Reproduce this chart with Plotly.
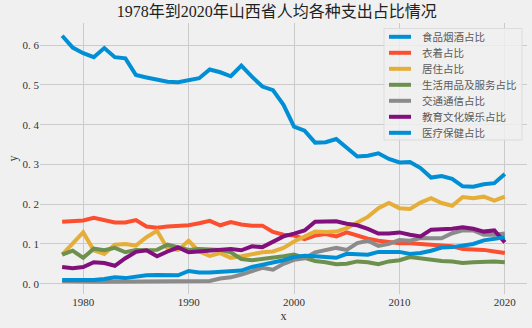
import plotly.graph_objects as go

years = list(range(1978, 2021))

food = [0.624, 0.594, 0.580, 0.570, 0.593, 0.570, 0.567, 0.525, 0.519, 0.513,
        0.508, 0.507, 0.512, 0.517, 0.539, 0.532, 0.522, 0.549, 0.521, 0.496,
        0.487, 0.450, 0.395, 0.385, 0.355, 0.356, 0.364, 0.343, 0.320, 0.322,
        0.328, 0.314, 0.305, 0.306, 0.291, 0.267, 0.271, 0.264, 0.245, 0.244,
        0.250, 0.253, 0.276]
clothing = [0.156, 0.158, 0.159, 0.166, 0.159, 0.154, 0.154, 0.160, 0.144, 0.141,
            0.144, 0.146, 0.147, 0.152, 0.158, 0.147, 0.155, 0.149, 0.146, 0.146,
            0.130, 0.123, 0.121, 0.112, 0.121, 0.125, 0.119, 0.129, 0.121, 0.113,
            0.108, 0.104, 0.102, 0.102, 0.100, 0.096, 0.096, 0.094, 0.087, 0.087,
            0.085, 0.081, 0.077]
housing = [0.073, 0.100, 0.129, 0.084, 0.075, 0.098, 0.100, 0.096, 0.117, 0.133,
           0.088, 0.085, 0.108, 0.081, 0.070, 0.077, 0.065, 0.069, 0.074, 0.079,
           0.081, 0.090, 0.106, 0.119, 0.131, 0.130, 0.131, 0.140, 0.154, 0.168,
           0.190, 0.203, 0.190, 0.188, 0.204, 0.215, 0.203, 0.196, 0.218, 0.215,
           0.219, 0.209, 0.219]
goods = [0.073, 0.083, 0.065, 0.088, 0.084, 0.090, 0.079, 0.085, 0.084, 0.085,
         0.098, 0.092, 0.085, 0.087, 0.087, 0.085, 0.079, 0.062, 0.059, 0.062,
         0.064, 0.069, 0.073, 0.065, 0.057, 0.054, 0.049, 0.050, 0.056, 0.054,
         0.049, 0.056, 0.059, 0.067, 0.063, 0.060, 0.057, 0.056, 0.052, 0.054,
         0.056, 0.056, 0.054]
transport = [0.006, 0.005, 0.005, 0.005, 0.005, 0.005, 0.005, 0.005, 0.005, 0.005,
             0.005, 0.006, 0.006, 0.006, 0.007, 0.013, 0.016, 0.023, 0.031, 0.040,
             0.035, 0.050, 0.060, 0.064, 0.079, 0.085, 0.090, 0.085, 0.102, 0.108,
             0.095, 0.100, 0.110, 0.108, 0.115, 0.114, 0.114, 0.127, 0.134, 0.134,
             0.123, 0.123, 0.126]
education = [0.042, 0.039, 0.042, 0.054, 0.052, 0.045, 0.064, 0.080, 0.084, 0.069,
             0.081, 0.091, 0.079, 0.081, 0.082, 0.083, 0.087, 0.084, 0.094, 0.092,
             0.106, 0.119, 0.126, 0.134, 0.156, 0.157, 0.157, 0.151, 0.147, 0.138,
             0.126, 0.126, 0.129, 0.123, 0.119, 0.136, 0.136, 0.138, 0.142, 0.138,
             0.131, 0.134, 0.104]
health = [0.009, 0.009, 0.007, 0.009, 0.012, 0.016, 0.014, 0.018, 0.021, 0.022,
          0.021, 0.021, 0.032, 0.028, 0.028, 0.030, 0.031, 0.033, 0.042, 0.047,
          0.052, 0.059, 0.067, 0.070, 0.069, 0.067, 0.065, 0.075, 0.075, 0.073,
          0.080, 0.079, 0.080, 0.075, 0.077, 0.083, 0.091, 0.092, 0.095, 0.100,
          0.109, 0.112, 0.117]

names = ["食品烟酒占比", "衣着占比", "居住占比", "生活用品及服务占比",
         "交通通信占比", "教育文化娱乐占比", "医疗保健占比"]
series = [food, clothing, housing, goods, transport, education, health]
colors = ["#008fd5", "#fc4f30", "#e5ae38", "#6d904f", "#8b8b8b", "#810f7c", "#008fd5"]

FONT = "Liberation Serif, Noto Sans CJK SC, serif"

# plot-area geometry in pixels (used to place the compact legend box)
W, H = 532, 328
ML, MR, MT, MB = 40, 5, 23, 34
PW, PH = W - ML - MR, H - MT - MB


def px_x(px):
    return (px - ML) / PW


def px_y(py):
    return (H - MB - py) / PH


fig = go.Figure()
for name, vals, col in zip(names, series, colors):
    fig.add_trace(go.Scatter(x=years, y=vals, mode="lines", name=name,
                             line=dict(color=col, width=4), showlegend=False))

# compact legend: framed box, a short line sample and a label per series
shapes = [dict(type="rect", xref="paper", yref="paper",
               x0=px_x(384), x1=px_x(522), y0=px_y(140), y1=px_y(28.5),
               line=dict(color="#dcdcdc", width=1), fillcolor="rgba(240,240,240,0.8)",
               layer="above")]
annotations = []
row0, step = 36.8, 16.0
for i, (name, col) in enumerate(zip(names, colors)):
    yc = row0 + i * step
    shapes.append(dict(type="line", xref="paper", yref="paper",
                       x0=px_x(389), x1=px_x(411), y0=px_y(yc), y1=px_y(yc),
                       line=dict(color=col, width=4), layer="above"))
    annotations.append(dict(xref="paper", yref="paper", x=px_x(420), y=px_y(yc),
                            xanchor="left", yanchor="middle", showarrow=False,
                            text=name,
                            font=dict(family="Noto Sans CJK SC", size=10.5,
                                      color="#5a5a5a")))

fig.update_layout(
    width=W, height=H,
    margin=dict(l=ML, r=MR, t=MT, b=MB),
    paper_bgcolor="#f0f0f0", plot_bgcolor="#f0f0f0",
    font=dict(family=FONT, size=11, color="#333333"),
    title=dict(text="1978年到2020年山西省人均各种支出占比情况",
               x=0.52, xanchor="center", y=0.965, yanchor="middle",
               font=dict(family=FONT, size=16, color="#222222")),
    shapes=shapes,
    annotations=annotations,
)
fig.update_xaxes(range=[1975.9, 2022.1], tickvals=[1980, 1990, 2000, 2010, 2020],
                 showgrid=True, gridcolor="#cbcbcb", gridwidth=1,
                 zeroline=False, showline=False, ticks="",
                 tickfont=dict(size=11), title=dict(text="x", standoff=4,
                 font=dict(size=12)))
fig.update_yaxes(range=[-0.026, 0.656], tickvals=[0.0, 0.1, 0.2, 0.3, 0.4, 0.5, 0.6],
                 ticktext=["0. 0", "0. 1", "0. 2", "0. 3", "0. 4", "0. 5", "0. 6"],
                 showgrid=True, gridcolor="#cbcbcb", gridwidth=1,
                 zeroline=False, showline=False, ticks="",
                 tickfont=dict(size=11), title=dict(text="y", standoff=2,
                 font=dict(size=12)))

fig.write_html("out.html")
